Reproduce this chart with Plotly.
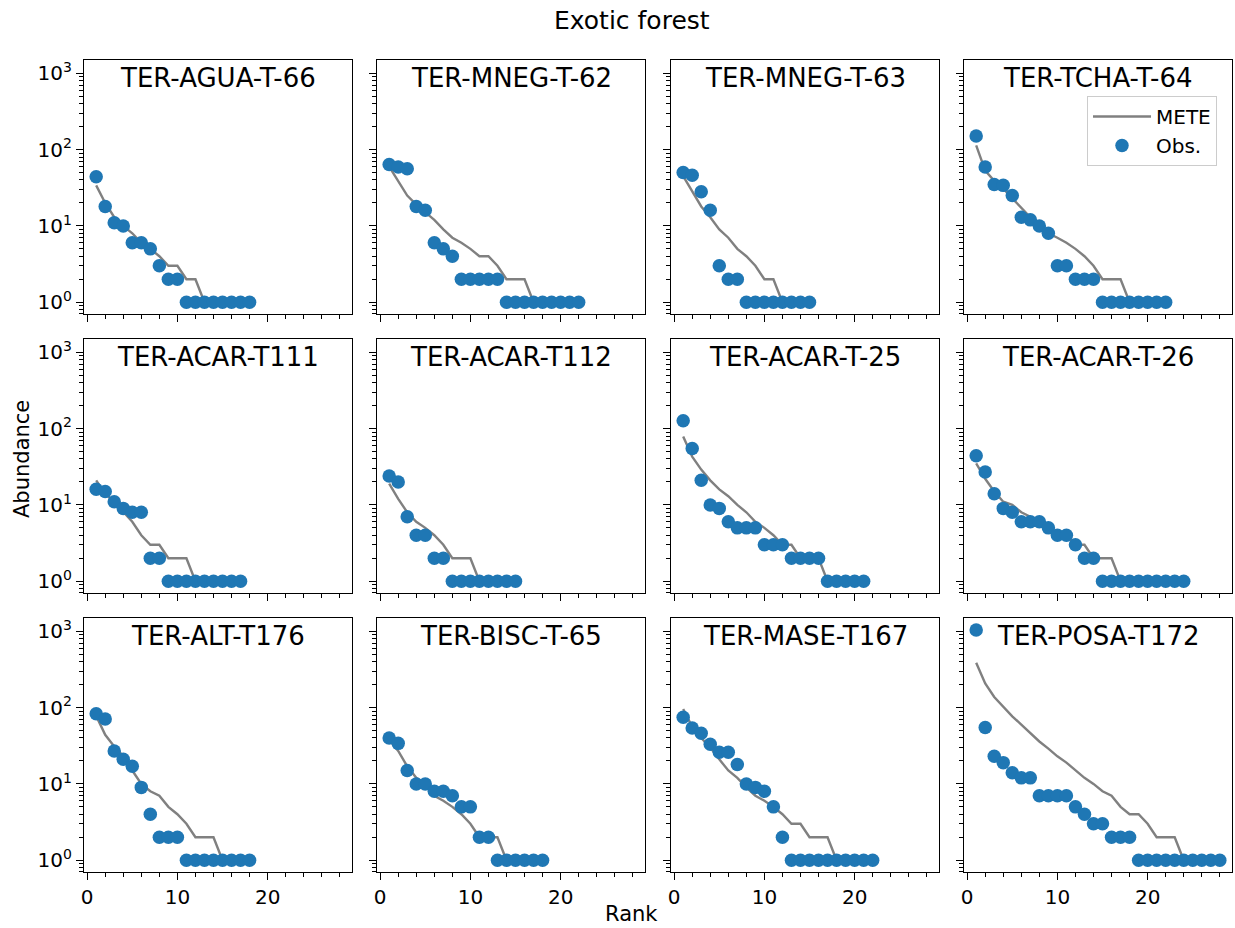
import plotly.graph_objects as go

# ---------------- data ----------------
sites = ["TER-AGUA-T-66", "TER-MNEG-T-62", "TER-MNEG-T-63", "TER-TCHA-T-64",
         "TER-ACAR-T111", "TER-ACAR-T112", "TER-ACAR-T-25", "TER-ACAR-T-26",
         "TER-ALT-T176", "TER-BISC-T-65", "TER-MASE-T167", "TER-POSA-T172"]

obs_agua_66 = [44, 18, 11, 10, 6, 6, 5, 3, 2, 2, 1, 1, 1, 1, 1, 1, 1, 1]
mete_agua_66 = [34, 20, 13, 10, 8, 6, 5, 4, 3, 3, 2, 2, 1, 1, 1, 1, 1, 1]

obs_mneg_62 = [64, 59, 56, 18, 16, 6, 5, 4, 2, 2, 2, 2, 2, 1, 1, 1, 1, 1, 1, 1, 1, 1]
mete_mneg_62 = [60, 39, 25, 19, 15, 12, 9, 7, 6, 5, 4, 4, 3, 2, 2, 2, 1, 1, 1, 1, 1, 1]

obs_mneg_63 = [50, 46, 28, 16, 3, 2, 2, 1, 1, 1, 1, 1, 1, 1, 1]
mete_mneg_63 = [45, 28, 18, 13, 9, 7, 5, 4, 3, 2, 2, 1, 1, 1, 1]

obs_tcha_64 = [151, 59, 35, 34, 25, 13, 12, 10, 8, 3, 3, 2, 2, 2, 1, 1, 1, 1, 1, 1, 1, 1]
mete_tcha_64 = [114, 53, 39, 31, 23, 17, 13, 10, 8, 7, 6, 5, 4, 3, 2, 2, 2, 1, 1, 1, 1, 1]

obs_acar_111 = [16, 15, 11, 9, 8, 8, 2, 2, 1, 1, 1, 1, 1, 1, 1, 1, 1]
mete_acar_111 = [21, 14, 11, 8, 6, 4, 3, 3, 2, 2, 2, 1, 1, 1, 1, 1, 1]

obs_acar_112 = [24, 20, 7, 4, 4, 2, 2, 1, 1, 1, 1, 1, 1, 1, 1]
mete_acar_112 = [19, 12, 8, 6, 5, 4, 3, 2, 2, 2, 1, 1, 1, 1, 1]

obs_acar_25 = [127, 55, 21, 10, 9, 6, 5, 5, 5, 3, 3, 3, 2, 2, 2, 2, 1, 1, 1, 1, 1]
mete_acar_25 = [79, 43, 29, 21, 16, 13, 10, 8, 6, 5, 4, 3, 3, 2, 2, 2, 1, 1, 1, 1, 1]

obs_acar_26 = [44, 27, 14, 9, 8, 6, 6, 6, 5, 4, 4, 3, 2, 2, 1, 1, 1, 1, 1, 1, 1, 1, 1, 1]
mete_acar_26 = [35, 22, 15, 11, 10, 8, 7, 6, 5, 4, 4, 3, 3, 2, 2, 2, 1, 1, 1, 1, 1, 1, 1, 1]

obs_alt_176 = [83, 71, 27, 21, 17, 9, 4, 2, 2, 2, 1, 1, 1, 1, 1, 1, 1, 1]
mete_alt_176 = [78, 44, 31, 23, 15, 10, 8, 7, 5, 4, 3, 2, 2, 2, 1, 1, 1, 1]

obs_bisc_65 = [40, 34, 15, 10, 10, 8, 8, 7, 5, 5, 2, 2, 1, 1, 1, 1, 1, 1]
mete_bisc_65 = [38, 27, 17, 12, 10, 7, 6, 5, 4, 3, 2, 2, 2, 1, 1, 1, 1, 1]

obs_mase_167 = [75, 54, 46, 33, 26, 26, 18, 10, 9, 8, 5, 2, 1, 1, 1, 1, 1, 1, 1, 1, 1, 1]
mete_mase_167 = [96, 56, 40, 30, 21, 15, 12, 9, 7, 6, 5, 4, 3, 3, 2, 2, 2, 1, 1, 1, 1, 1]

obs_posa_172 = [1042, 55, 23, 19, 14, 12, 12, 7, 7, 7, 7, 5, 4, 3, 3, 2, 2, 2,
                1, 1, 1, 1, 1, 1, 1, 1, 1, 1]
mete_posa_172 = [387, 207, 138, 102, 77, 60, 46, 36, 29, 23, 19, 15, 12, 10, 8, 7, 5, 4,
                 4, 3, 2, 2, 2, 1, 1, 1, 1, 1]

observed = [obs_agua_66, obs_mneg_62, obs_mneg_63, obs_tcha_64,
            obs_acar_111, obs_acar_112, obs_acar_25, obs_acar_26,
            obs_alt_176, obs_bisc_65, obs_mase_167, obs_posa_172]
predicted = [mete_agua_66, mete_mneg_62, mete_mneg_63, mete_tcha_64,
             mete_acar_111, mete_acar_112, mete_acar_25, mete_acar_26,
             mete_alt_176, mete_bisc_65, mete_mase_167, mete_posa_172]

x_major = [0, 10, 20]
x_minor = [2, 4, 6, 8, 12, 14, 16, 18, 22, 24, 26, 28]
y_major = [1, 10, 100, 1000]
y_major_text = ["10<sup>0</sup>", "10<sup>1</sup>", "10<sup>2</sup>", "10<sup>3</sup>"]
y_minor = [k * 10 ** d for d in range(-1, 4) for k in range(2, 10)]

# ---------------- layout geometry ----------------
W, H = 1235, 928
ML, MR, MT, MB = 84, 3, 60, 56
PW, PH = W - ML - MR, H - MT - MB
col_left = [84, 377, 671, 964]
row_top = [60, 339, 618]
panel_w, panel_h = 268, 254


def px_x(px):
    return (px - ML) / PW


def px_y(py):
    return 1 - (py - MT) / PH


FONT = "DejaVu Sans"
BLUE = "#1f77b4"
GREY = "#808080"
TICK_SIZE = 20

fig = go.Figure()
annotations = []
layout_axes = {}

for i, (name, obs, mete) in enumerate(zip(sites, observed, predicted)):
    r, c = divmod(i, 4)
    n = i + 1
    sx = "" if n == 1 else str(n)
    ranks_m = list(range(1, len(mete) + 1))
    ranks_o = list(range(1, len(obs) + 1))
    fig.add_trace(go.Scatter(
        x=ranks_m, y=mete, mode="lines",
        line=dict(color=GREY, width=2.4),
        name="METE", legendgroup="mete", showlegend=(i == 3),
        xaxis="x" + sx, yaxis="y" + sx))
    fig.add_trace(go.Scatter(
        x=ranks_o, y=obs, mode="markers",
        marker=dict(color=BLUE, size=13.5),
        name="Obs.", legendgroup="obs", showlegend=(i == 3),
        xaxis="x" + sx, yaxis="y" + sx))

    x0 = px_x(col_left[c])
    x1 = px_x(col_left[c] + panel_w)
    y1 = px_y(row_top[r])
    y0 = px_y(row_top[r] + panel_h)

    layout_axes["xaxis" + sx] = dict(
        domain=[x0, x1], anchor="y" + sx, range=[-0.35, 29.35],
        tickmode="array", tickvals=x_major, showticklabels=(r == 2),
        ticks="outside", ticklen=7, tickwidth=1.2, tickcolor="black",
        minor=dict(tickmode="array", tickvals=x_minor, ticks="outside",
                   ticklen=4, tickwidth=1, tickcolor="black", showgrid=False),
        showline=True, mirror=True, linecolor="black", linewidth=1.2,
        showgrid=False, zeroline=False,
        tickfont=dict(family=FONT, size=TICK_SIZE, color="black"))
    layout_axes["yaxis" + sx] = dict(
        domain=[y0, y1], anchor="x" + sx, type="log", range=[-0.155, 3.175],
        tickmode="array", tickvals=y_major, ticktext=y_major_text,
        showticklabels=(c == 0),
        ticks="outside", ticklen=7, tickwidth=1.2, tickcolor="black",
        minor=dict(tickmode="array", tickvals=y_minor, ticks="outside",
                   ticklen=4, tickwidth=1, tickcolor="black", showgrid=False),
        showline=True, mirror=True, linecolor="black", linewidth=1.2,
        showgrid=False, zeroline=False,
        tickfont=dict(family=FONT, size=TICK_SIZE, color="black"))

    annotations.append(dict(
        text=name, xref="paper", yref="paper",
        x=(x0 + x1) / 2, y=px_y(row_top[r] + 18),
        xanchor="center", yanchor="middle", showarrow=False,
        font=dict(family=FONT, size=26, color="black")))

annotations.append(dict(
    text="Exotic forest", xref="paper", yref="paper",
    x=px_x(632), y=px_y(20), xanchor="center", yanchor="middle",
    showarrow=False, font=dict(family=FONT, size=25, color="black")))
annotations.append(dict(
    text="Rank", xref="paper", yref="paper",
    x=px_x(631), y=px_y(914), xanchor="center", yanchor="middle",
    showarrow=False, font=dict(family=FONT, size=21, color="black")))
annotations.append(dict(
    text="Abundance", xref="paper", yref="paper",
    x=px_x(22), y=px_y(459), xanchor="center", yanchor="middle",
    textangle=-90, showarrow=False,
    font=dict(family=FONT, size=21, color="black")))

fig.update_layout(
    width=W, height=H,
    margin=dict(l=ML, r=MR, t=MT, b=MB),
    paper_bgcolor="white", plot_bgcolor="white",
    font=dict(family=FONT, size=TICK_SIZE, color="black"),
    annotations=annotations,
    showlegend=True,
    legend=dict(x=px_x(1087), y=px_y(96), xanchor="left", yanchor="top",
                bgcolor="rgba(255,255,255,0.8)", bordercolor="#cccccc",
                borderwidth=1, font=dict(family=FONT, size=20, color="black"),
                itemwidth=58, tracegroupgap=0),
    **layout_axes)

fig.write_html("out.html")
